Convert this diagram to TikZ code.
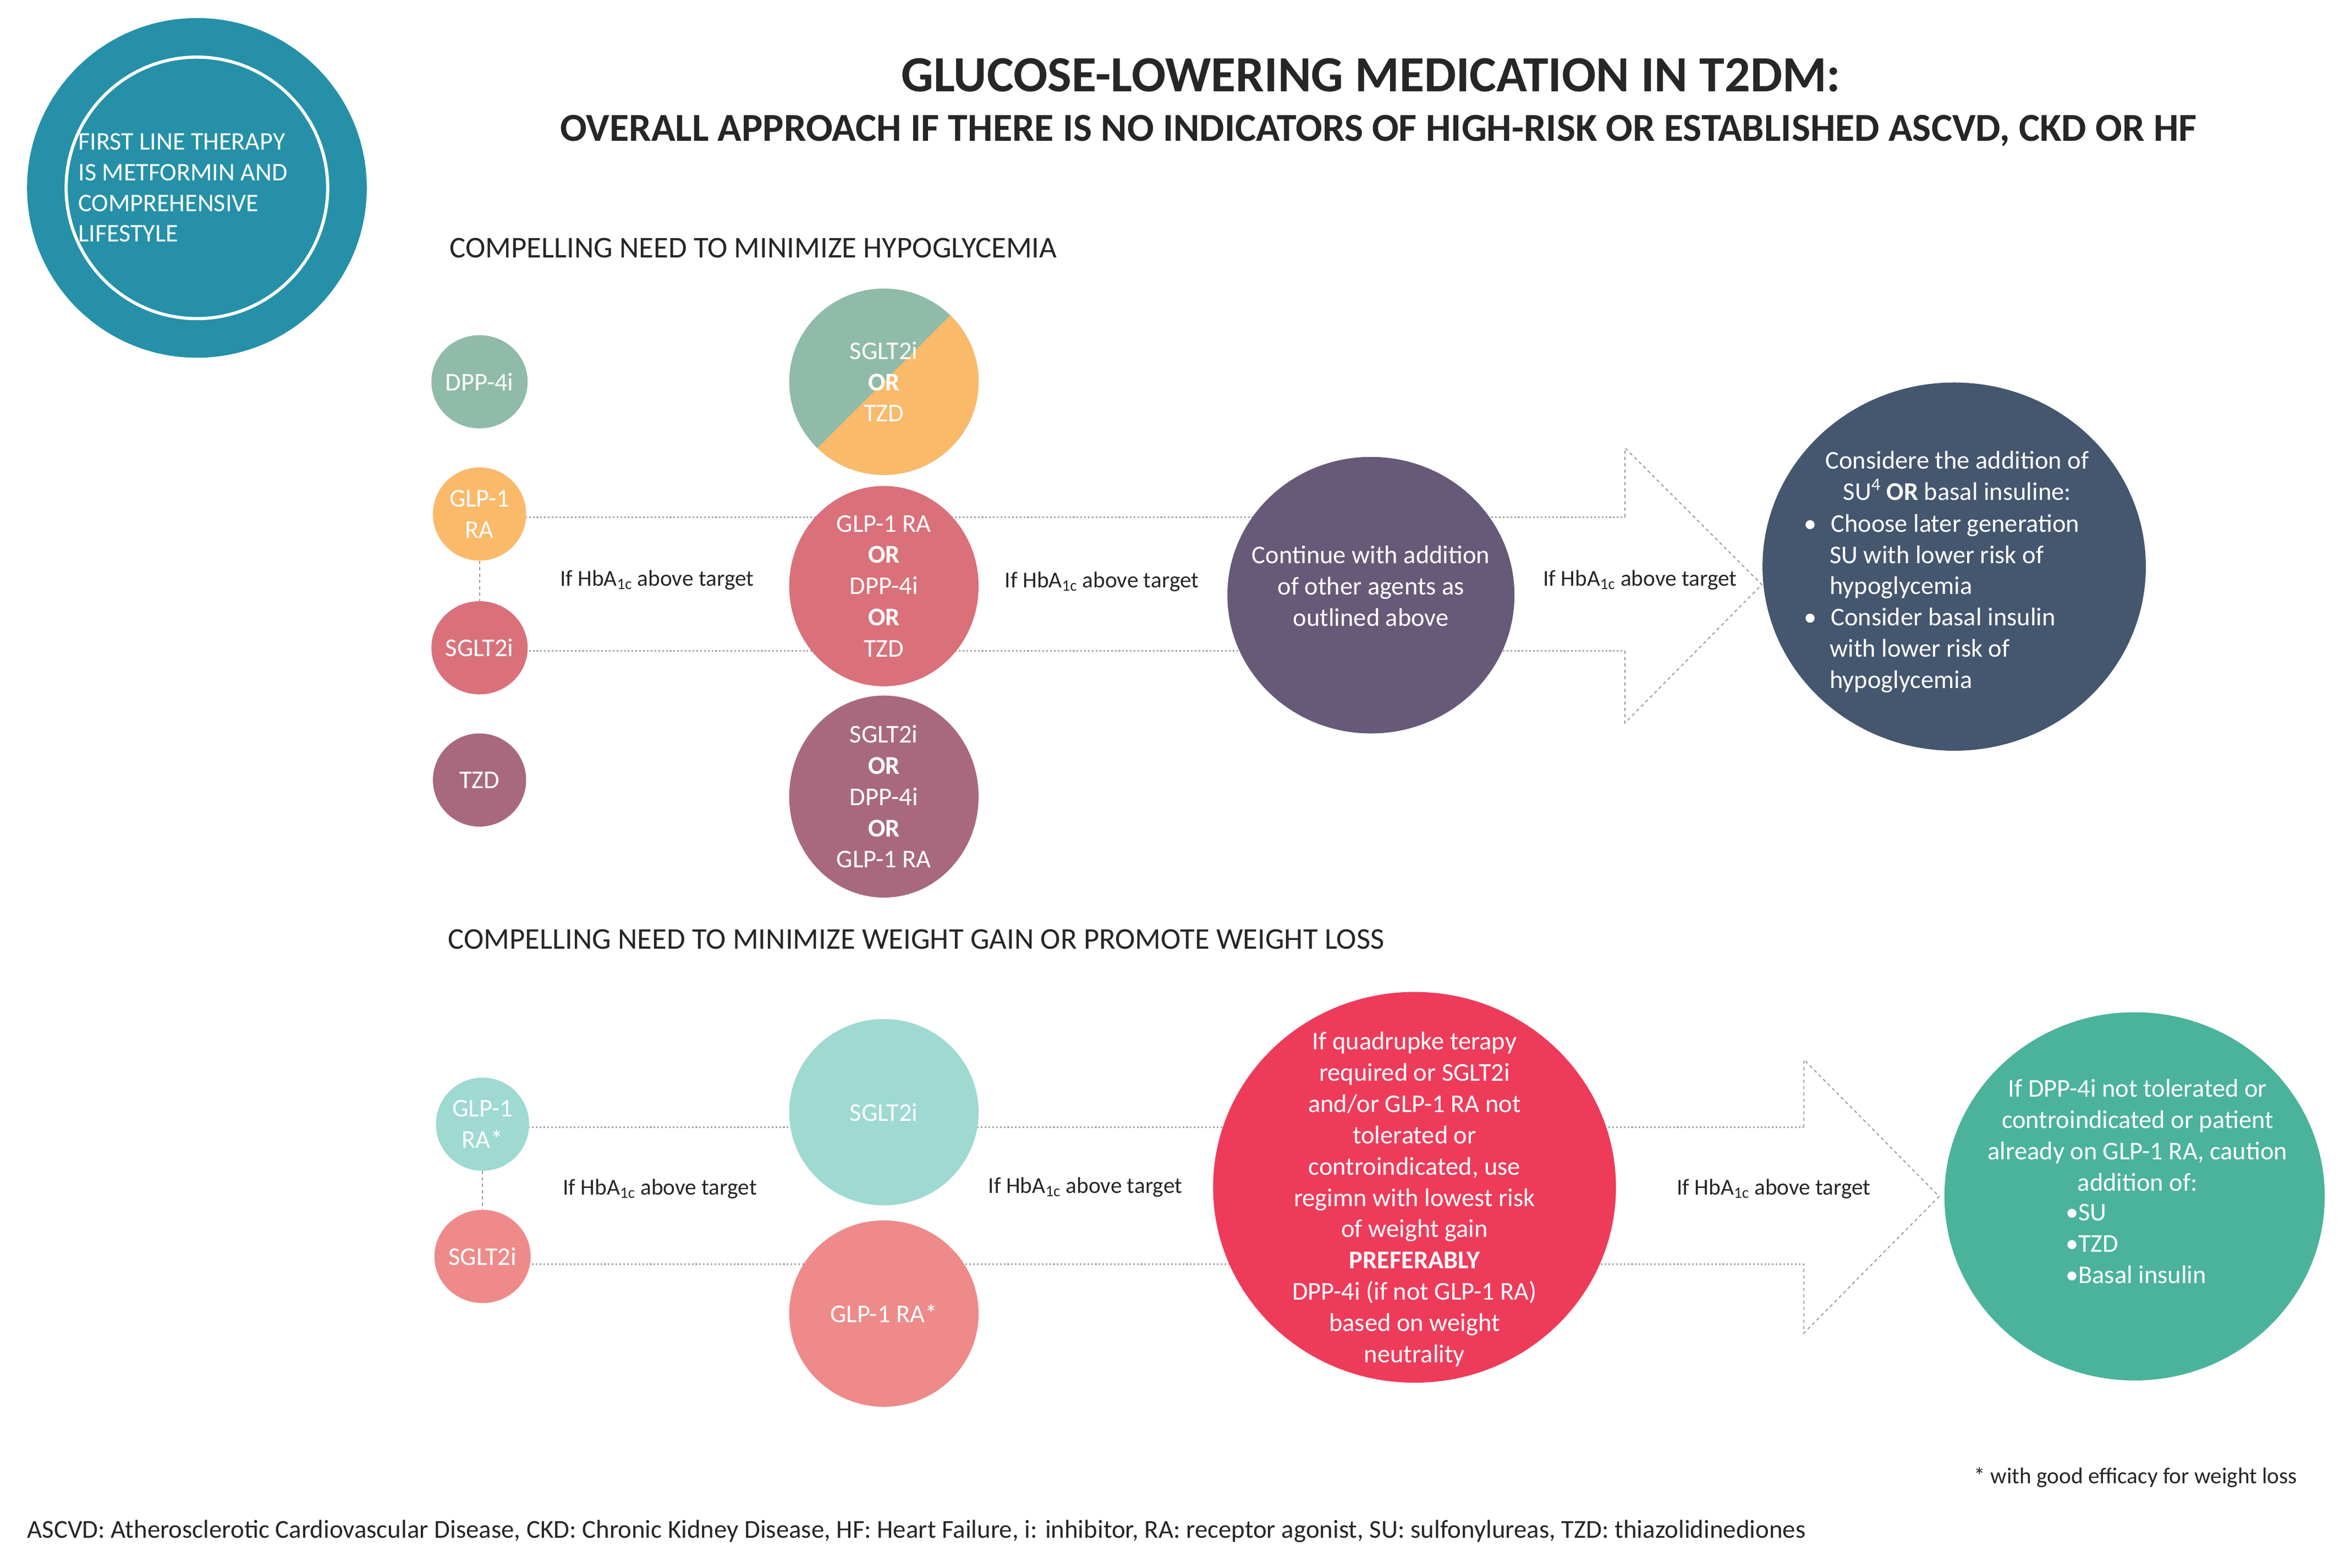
\documentclass[tikz,border=0pt]{standalone}
\usepackage{fontspec}
\setmainfont{Carlito}
\usetikzlibrary{backgrounds,shapes.geometric}
\definecolor{cteal}{HTML}{2590A8}
\definecolor{cdpp}{HTML}{8FBBA8}
\definecolor{cglp}{HTML}{FBB96A}
\definecolor{csglt}{HTML}{D9707A}
\definecolor{ctzd}{HTML}{A8697E}
\definecolor{cpurp}{HTML}{675A78}
\definecolor{cnavy}{HTML}{45566F}
\definecolor{cmint}{HTML}{9ED9D2}
\definecolor{csalm}{HTML}{EE8A8A}
\definecolor{cred}{HTML}{EE3B5A}
\definecolor{cgreen}{HTML}{4BB39B}
\definecolor{ctext}{HTML}{262626}
\tikzset{
 x=0.05cm,y=-0.05cm,
 circ/.style={ellipse,draw=none,text=white,align=center,inner sep=0pt,
   font=\fontsize{24.2}{29.6}\selectfont},
 sm/.style={circ,minimum width=62*0.05cm,minimum height=62*0.05cm},
 md/.style={circ,minimum width=126*0.05cm,minimum height=124*0.05cm},
 lbl/.style={text=ctext,font=\fontsize{21.5}{24}\selectfont,inner sep=1pt},
 hdr/.style={text=ctext,anchor=west,font=\fontsize{28.5}{32}\selectfont,inner sep=0pt},
 dot/.style={draw=gray!70,dotted,line width=1.6pt},
 dsh/.style={draw=gray!80,dashed,line width=1pt},
 ctxt/.style={text=white,font=\fontsize{24.2}{29.6}\selectfont,inner sep=0pt},
}
\begin{document}
\begin{tikzpicture}
\useasboundingbox (0,0) rectangle (1560,1043);
% top-left circle
\node[circle,fill=cteal,minimum size=226*0.05cm,inner sep=0pt] (first) at (131,125) {};
\draw[white,line width=3pt] (first.center) circle[radius=87];
\node[text=white,align=left,anchor=west,font=\fontsize{24}{29}\selectfont,inner sep=0pt] (firsttxt) at (52,125)
 {FIRST LINE THERAPY\\IS METFORMIN AND\\COMPREHENSIVE\\LIFESTYLE};
% titles
\node[text=ctext,font=\bfseries\fontsize{48}{52}\selectfont] (title) at (912,50) {GLUCOSE-LOWERING MEDICATION IN T2DM:};
\node[text=ctext,font=\bfseries\fontsize{37.5}{40}\selectfont] (sub) at (917,87) {OVERALL APPROACH IF THERE IS NO INDICATORS OF HIGH-RISK OR ESTABLISHED ASCVD, CKD OR HF};
\node[hdr] (h1) at (299,165) {COMPELLING NEED TO MINIMIZE HYPOGLYCEMIA};
\node[hdr] (h2) at (298,625) {COMPELLING NEED TO MINIMIZE WEIGHT GAIN OR PROMOTE WEIGHT LOSS};

% ---- section 1
\coordinate (a1t) at (1081,344);
\coordinate (a1b) at (1081,433);
\coordinate (a1u) at (1081,298);
\coordinate (a1d) at (1081,481);
\coordinate (a1tip) at (1172,389);
\coordinate (g1) at (319,344);
\coordinate (s1) at (319,433);
\draw[dot] (g1) -- (a1t);
\draw[dot] (s1) -- (a1b);
\node[sm,fill=cdpp] (dpp) at (319,254) {DPP-4i};
\node[sm,fill=cglp] (glp) at (319,342) {GLP-1\\RA};
\node[sm,fill=csglt] (sglt) at (319,431) {SGLT2i};
\node[sm,fill=ctzd] (tzd) at (319,519) {TZD};
\begin{scope}
\clip (588,254) ellipse[x radius=63,y radius=62];
\fill[cdpp] (520,190) rectangle (660,320);
\fill[cglp] (500,342) -- (676,166) -- (676,342) -- cycle;
\end{scope}
\node[md,fill=none] (m1) at (588,254) {SGLT2i\\\textbf{OR}\\TZD};
\node[md,fill=csglt] (m2) at (588,390) {GLP-1 RA\\\textbf{OR}\\DPP-4i\\\textbf{OR}\\TZD};
\node[md,fill=ctzd] (m3) at (588,530) {SGLT2i\\\textbf{OR}\\DPP-4i\\\textbf{OR}\\GLP-1 RA};
\node[circ,fill=cpurp,minimum width=191*0.05cm,minimum height=184*0.05cm] (cont) at (912,396) {};
\node[ctxt,align=center] (conttxt) at (912,390)
 {Continue with addition\\of other agents as\\outlined above};
\node[circ,fill=cnavy,minimum width=255*0.05cm,minimum height=245*0.05cm] (su) at (1300,377) {};
\node[ctxt,align=center,anchor=north] (sutop) at (1302,300)
 {Considere the addition of\\SU\textsuperscript{4} \textbf{OR} basal insuline:};
\node[ctxt,align=left,anchor=north west] (sulist) at (1200,342)
 {\textbullet\hspace{0.55em}Choose later generation\\\hspace{1em}SU with lower risk of\\\hspace{1em}hypoglycemia\\\textbullet\hspace{0.55em}Consider basal insulin\\\hspace{1em}with lower risk of\\\hspace{1em}hypoglycemia};
\draw[dsh] (a1t) -- (a1u) -- (a1tip) -- (a1d) -- (a1b);
\draw[dsh] (glp) -- (sglt);
\node[lbl] (l1) at (437,386) {If HbA\textsubscript{1c} above target};
\node[lbl] (l2) at (733,387) {If HbA\textsubscript{1c} above target};
\node[lbl] (l3) at (1091,386) {If HbA\textsubscript{1c} above target};

% ---- section 2
\coordinate (a2t) at (1200,750);
\coordinate (a2b) at (1200,841);
\coordinate (a2u) at (1200,705);
\coordinate (a2d) at (1200,887);
\coordinate (a2tip) at (1290,796);
\coordinate (g2) at (321,750);
\coordinate (s2) at (321,841);
\draw[dot] (g2) -- (a2t);
\draw[dot] (s2) -- (a2b);
\node[sm,fill=cmint] (glp2) at (321,748) {GLP-1\\RA*};
\node[sm,fill=csalm] (sglt2) at (321,836) {SGLT2i};
\node[md,fill=cmint] (n1) at (588,740) {SGLT2i};
\node[md,fill=csalm] (n2) at (588,874) {GLP-1 RA*};
\node[circ,fill=cred,minimum width=268*0.05cm,minimum height=260*0.05cm] (quad) at (941,790) {};
\node[ctxt,align=center] (quadtxt) at (941,798)
 {If quadrupke terapy\\required or SGLT2i\\and/or GLP-1 RA not\\tolerated or\\controindicated, use\\regimn with lowest risk\\of weight gain\\\textbf{PREFERABLY}\\DPP-4i (if not GLP-1 RA)\\based on weight\\neutrality};
\node[circ,fill=cgreen,minimum width=253*0.05cm,minimum height=245*0.05cm] (dpp2) at (1420,796) {};
\node[ctxt,align=center,anchor=north] (dpptxt) at (1422,718)
 {If DPP-4i not tolerated or\\controindicated or patient\\already on GLP-1 RA, caution\\addition of:};
\node[ctxt,align=left,anchor=north west] (dpplist) at (1374,801)
 {\textbullet SU\\\textbullet TZD\\\textbullet Basal insulin};
\draw[dsh] (a2t) -- (a2u) -- (a2tip) -- (a2d) -- (a2b);
\draw[dsh] (glp2) -- (sglt2);
\node[lbl] (l4) at (439,791) {If HbA\textsubscript{1c} above target};
\node[lbl] (l5) at (722,790) {If HbA\textsubscript{1c} above target};
\node[lbl] (l6) at (1180,791) {If HbA\textsubscript{1c} above target};

\node[lbl,anchor=east] (fn) at (1529,983) {* with good efficacy for weight loss};
\node[text=ctext,anchor=west,font=\fontsize{24.4}{27}\selectfont,inner sep=0pt] (abbr) at (18,1019)
 {ASCVD: Atherosclerotic Cardiovascular Disease, CKD: Chronic Kidney Disease, HF: Heart Failure, i: inhibitor, RA: receptor agonist, SU: sulfonylureas, TZD: thiazolidinediones};
\end{tikzpicture}
\end{document}
